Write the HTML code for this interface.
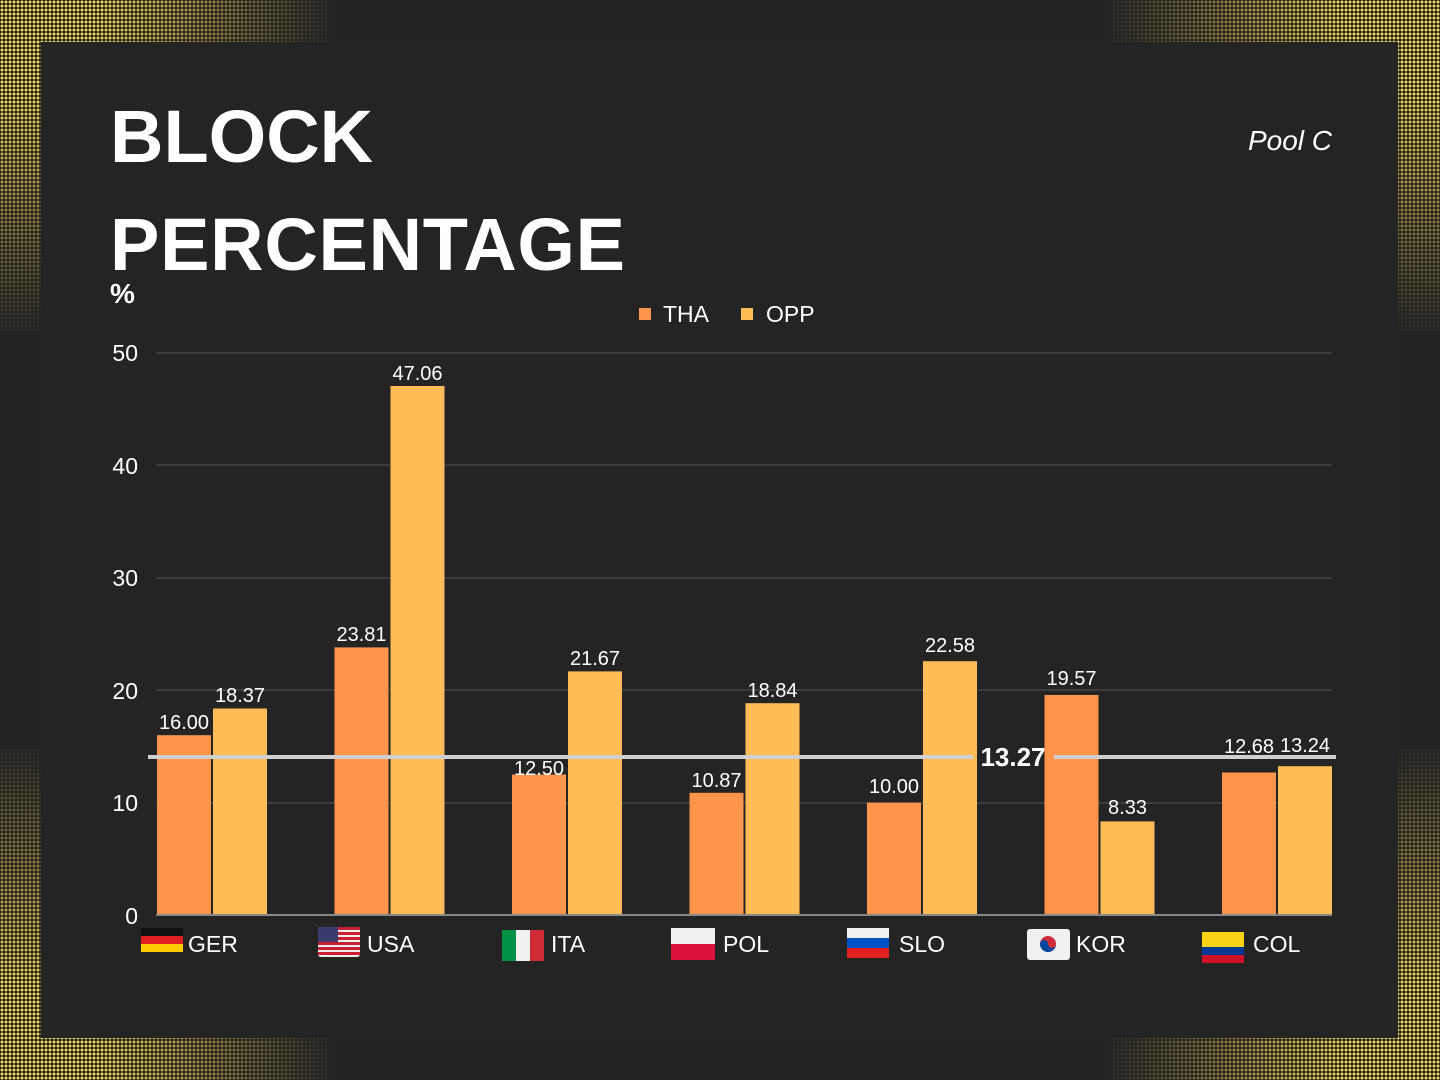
<!DOCTYPE html>
<html><head><meta charset="utf-8"><style>
html,body{margin:0;padding:0;width:1440px;height:1080px;overflow:hidden;background:#232323;}
.dots{position:absolute;left:0;top:0;width:1440px;height:1080px;
background-image:radial-gradient(circle,#f7d84e 1.3px,transparent 1.6px);background-size:4px 4px;
-webkit-mask-image:radial-gradient(ellipse 340px 340px at 0 0,#000 30%,transparent 100%),radial-gradient(ellipse 340px 340px at 1440px 0,#000 30%,transparent 100%),radial-gradient(ellipse 340px 340px at 0 1080px,#000 30%,transparent 100%),radial-gradient(ellipse 340px 340px at 1440px 1080px,#000 30%,transparent 100%);}
.panel{position:absolute;left:41px;top:42px;width:1357px;height:996px;background:#242424;}
svg{position:absolute;left:0;top:0;}
text{font-family:"Liberation Sans",sans-serif;}
</style></head><body>
<div class="dots"></div>
<div class="panel"></div>
<svg width="1440" height="1080" viewBox="0 0 1440 1080">
<text x="110" y="162" fill="#fff" font-size="74" font-weight="bold">BLOCK</text>
<text x="110" y="270" fill="#fff" font-size="74" font-weight="bold" textLength="515">PERCENTAGE</text>
<text x="110" y="303" fill="#fff" font-size="28" font-weight="bold">%</text>
<text x="1332" y="150" fill="#fff" font-size="28" font-style="italic" text-anchor="end">Pool C</text>
<rect x="639" y="308" width="12" height="12" fill="#FF944D"/><text x="663" y="322" fill="#fff" font-size="23">THA</text>
<rect x="741" y="308" width="12" height="12" fill="#FFBC57"/><text x="766" y="322" fill="#fff" font-size="23">OPP</text>
<g stroke="#555" stroke-width="1">
<line x1="156" y1="353" x2="1332" y2="353"/><line x1="156" y1="465" x2="1332" y2="465"/><line x1="156" y1="578" x2="1332" y2="578"/><line x1="156" y1="690" x2="1332" y2="690"/><line x1="156" y1="803" x2="1332" y2="803"/></g>
<g fill="#fff" font-size="23" text-anchor="end">
<text x="138" y="361">50</text><text x="138" y="474">40</text><text x="138" y="586">30</text><text x="138" y="699">20</text><text x="138" y="811">10</text><text x="138" y="924">0</text></g>
<g fill="#FF944D">
<rect x="157" y="735.2" width="54" height="179.8"/>
<rect x="334.5" y="647.4" width="54" height="267.6"/>
<rect x="512" y="774.5" width="54" height="140.5"/>
<rect x="689.5" y="792.8" width="54" height="122.2"/>
<rect x="867" y="802.6" width="54" height="112.4"/>
<rect x="1044.5" y="695" width="54" height="220"/>
<rect x="1222" y="772.5" width="54" height="142.5"/>
</g>
<g fill="#FFBC57">
<rect x="213" y="708.5" width="54" height="206.5"/>
<rect x="390.5" y="386" width="54" height="529"/>
<rect x="568" y="671.4" width="54" height="243.6"/>
<rect x="745.5" y="703.2" width="54" height="211.8"/>
<rect x="923" y="661.2" width="54" height="253.8"/>
<rect x="1100.5" y="821.4" width="54" height="93.6"/>
<rect x="1278" y="766.2" width="54" height="148.8"/>
</g>
<line x1="156" y1="915" x2="1332" y2="915" stroke="#888" stroke-width="2"/>
<g fill="#fff" font-size="20" text-anchor="middle">
<text x="184" y="729">16.00</text><text x="240" y="702">18.37</text>
<text x="361.5" y="641">23.81</text><text x="417.5" y="380">47.06</text>
<text x="539" y="775">12.50</text><text x="595" y="665">21.67</text>
<text x="716.5" y="787">10.87</text><text x="772.5" y="697">18.84</text>
<text x="894" y="793">10.00</text><text x="950" y="652">22.58</text>
<text x="1071.5" y="685">19.57</text><text x="1127.5" y="814">8.33</text>
<text x="1249" y="753">12.68</text><text x="1305" y="752">13.24</text>
</g>
<line x1="148" y1="757" x2="973" y2="757" stroke="#d0d0d0" stroke-width="4"/>
<line x1="1054" y1="757" x2="1336" y2="757" stroke="#d0d0d0" stroke-width="4"/>
<text x="1013" y="766" fill="#fff" font-size="26" font-weight="bold" text-anchor="middle">13.27</text>
<g fill="#fff" font-size="23">
<g transform="translate(141,928)"><rect width="42" height="8" fill="#111"/><rect y="8" width="42" height="8" fill="#e02020"/><rect y="16" width="42" height="8" fill="#ffcc00"/></g><text x="188" y="952">GER</text>
<g transform="translate(318,927)"><rect width="42" height="30" rx="3" fill="#eee"/><g fill="#c82030"><rect y="0" width="42" height="3"/><rect y="5" width="42" height="3"/><rect y="10" width="42" height="3"/><rect y="15" width="42" height="3"/><rect y="20" width="42" height="3"/><rect y="25" width="42" height="3"/></g><rect width="20" height="15" fill="#3c3b6e"/></g><text x="367" y="952">USA</text>
<g transform="translate(502,930)"><rect width="14" height="31" fill="#009246"/><rect x="14" width="14" height="31" fill="#f1f1f1"/><rect x="28" width="14" height="31" fill="#ce2b37"/></g><text x="551" y="952">ITA</text>
<g transform="translate(671,928)"><rect width="44" height="16" fill="#f1f1f1"/><rect y="16" width="44" height="16" fill="#dc143c"/></g><text x="723" y="952">POL</text>
<g transform="translate(847,928)"><rect width="42" height="10" fill="#f1f1f1"/><rect y="10" width="42" height="10" fill="#0050c8"/><rect y="20" width="42" height="10" fill="#e02020"/></g><text x="899" y="952">SLO</text>
<g transform="translate(1027,929)"><rect width="43" height="31" rx="3" fill="#f1f1f1"/><circle cx="21" cy="15" r="8" fill="#cd2e3a"/><path d="M13 15a8 8 0 0 0 16 0a4 4 0 0 1-8 0a4 4 0 0 0-8 0z" fill="#0047a0"/></g><text x="1076" y="952">KOR</text>
<g transform="translate(1202,932)"><rect width="42" height="15" fill="#fcd116"/><rect y="15" width="42" height="8" fill="#003893"/><rect y="23" width="42" height="8" fill="#ce1126"/></g><text x="1253" y="952">COL</text>
</g>
</svg>
</body></html>
